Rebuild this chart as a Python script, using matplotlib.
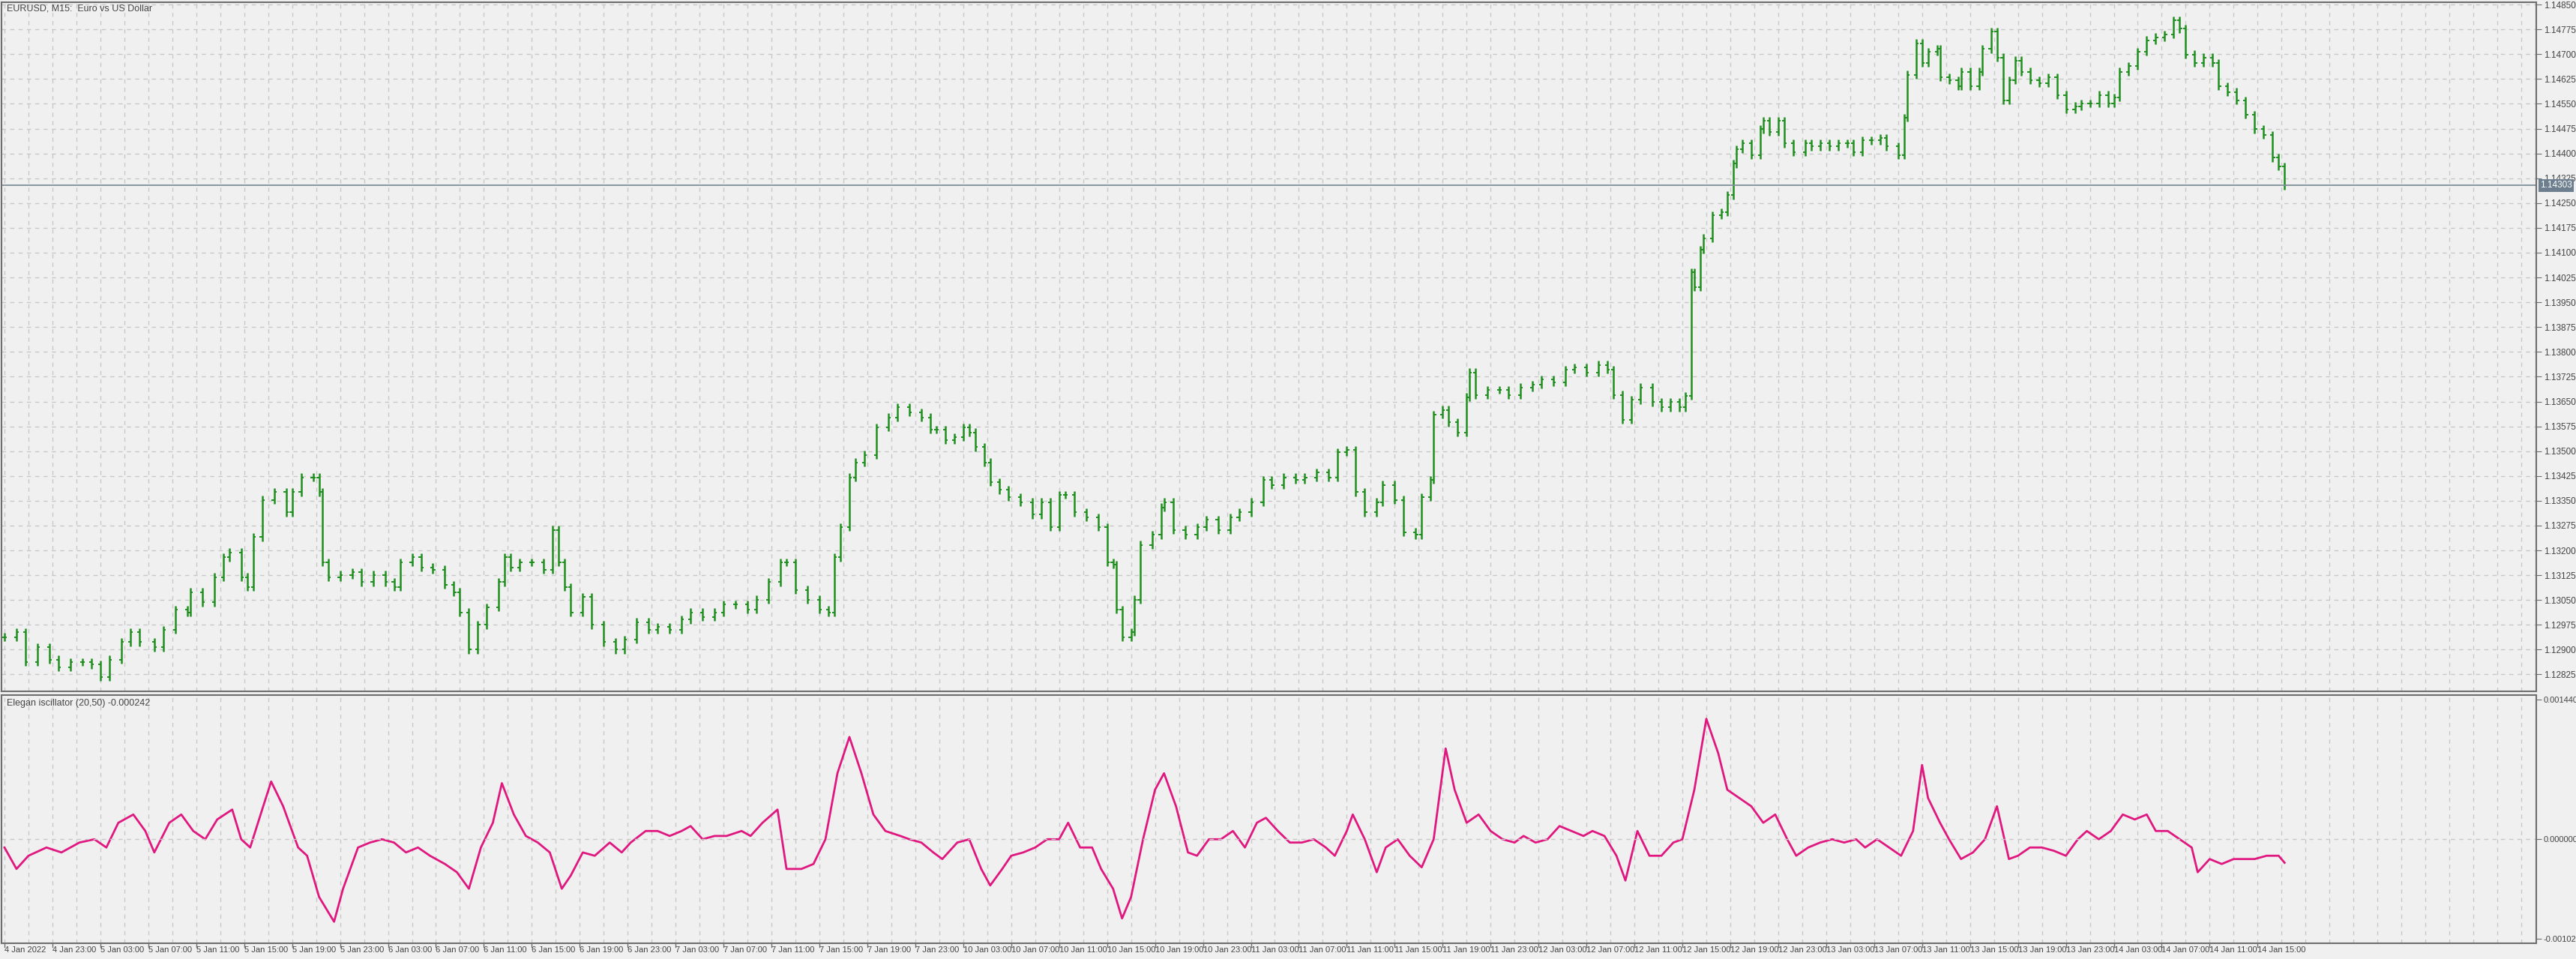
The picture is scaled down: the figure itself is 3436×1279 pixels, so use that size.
import numpy as np
import matplotlib
matplotlib.use("Agg")
import matplotlib.pyplot as plt

plt.rcParams['font.family'] = ['Liberation Sans Narrow', 'Liberation Sans', 'DejaVu Sans']

# EURUSD M15 bars (bar index, close)
bar_idx = [0, 4, 7, 11, 15, 18, 22, 26, 29, 32, 35, 39, 42, 45, 50, 53, 57, 61, 62, 66,
           70, 73, 75, 79, 81, 83, 86, 90, 94, 96, 99, 103, 105, 106, 108, 112, 116, 119, 123, 127,
           130, 132, 136, 139, 143, 147, 150, 152, 155, 158, 161, 165, 167, 169, 172, 176, 180, 183, 185, 187,
           189, 193, 196, 200, 204, 207, 211, 215, 218, 222, 226, 229, 233, 237, 240, 244, 248, 251, 255, 259,
           261, 264, 268, 272, 275, 277, 279, 282, 284, 287,
           291, 295, 298, 302, 306, 309, 311, 314, 317, 320, 322, 324, 327, 329, 332, 335, 339, 343, 346, 349,
           352, 354, 357, 361, 365, 368, 370, 371, 373, 376, 377, 379, 383, 386, 387, 390, 394, 398, 401, 405,
           409, 412, 416, 420, 423, 427, 431, 434, 438, 442, 445, 448, 451, 454, 458, 460, 464, 467, 471, 473,
           476, 477, 480, 482, 485, 488, 489, 491, 495, 499, 502, 506, 510, 513, 517, 521, 524, 528, 532, 535,
           537, 540, 543, 546, 550,
           553, 556, 559, 561, 563, 564, 566, 567, 570, 573, 575, 577, 578, 580, 583, 586, 587, 589, 592, 594,
           597, 601, 603, 606, 609, 612, 615, 617, 620, 623, 626, 628, 632, 634, 635, 638, 640, 642, 645, 646,
           649, 652, 653, 656, 659, 660, 663, 665, 667, 669, 671, 673, 676, 679, 682, 685, 688, 691, 693, 696,
           699, 702, 704, 706, 709, 712, 715, 718, 721, 724, 726, 728, 731, 734, 737, 739, 742, 745, 748, 751,
           754, 757, 759, 761]
close = [1.12938, 1.12953, 1.12862, 1.12907, 1.12870, 1.12847, 1.12862, 1.12862, 1.12855, 1.12817,
         1.12870, 1.12923, 1.12953, 1.12923, 1.12907, 1.12960, 1.13021, 1.13013, 1.13074, 1.13043,
         1.13119, 1.13179, 1.13194, 1.13119, 1.13089, 1.13240, 1.13353, 1.13376, 1.13315, 1.13376,
         1.13421, 1.13421, 1.13376, 1.13164, 1.13119, 1.13126, 1.13134, 1.13104, 1.13126, 1.13104,
         1.13089, 1.13164, 1.13179, 1.13149, 1.13142, 1.13096, 1.13074, 1.13013, 1.12900, 1.12975,
         1.13028, 1.13104, 1.13179, 1.13149, 1.13164, 1.13164, 1.13142, 1.13262, 1.13164, 1.13089,
         1.13013, 1.13059, 1.12975, 1.12923, 1.12900, 1.12930, 1.12983, 1.12960, 1.12968, 1.12960,
         1.12991, 1.13013, 1.12998, 1.13013, 1.13036, 1.13036, 1.13021, 1.13051, 1.13104, 1.13164,
         1.13164, 1.13081, 1.13051, 1.13021, 1.13013, 1.13179, 1.13270, 1.13421, 1.13466, 1.13489,
         1.13572, 1.13602, 1.13633, 1.13617, 1.13602, 1.13565, 1.13565, 1.13534, 1.13542, 1.13572,
         1.13557, 1.13512, 1.13466, 1.13406, 1.13383, 1.13361, 1.13346, 1.13308, 1.13346, 1.13270,
         1.13368, 1.13368, 1.13315, 1.13300, 1.13270, 1.13164, 1.13157, 1.13021, 1.12938, 1.12953,
         1.13051, 1.13217, 1.13247, 1.13330, 1.13346, 1.13262, 1.13247, 1.13270, 1.13293, 1.13262,
         1.13300, 1.13315, 1.13346, 1.13413, 1.13398, 1.13421, 1.13413, 1.13421, 1.13436, 1.13421,
         1.13497, 1.13504, 1.13376, 1.13315, 1.13346, 1.13398, 1.13353, 1.13255, 1.13247, 1.13361,
         1.13413, 1.13610, 1.13625, 1.13587, 1.13557, 1.13663, 1.13738, 1.13670, 1.13685, 1.13685,
         1.13670, 1.13693, 1.13701, 1.13716, 1.13708, 1.13746, 1.13753, 1.13738, 1.13761, 1.13746,
         1.13670, 1.13595, 1.13655, 1.13693, 1.13648,
         1.13632, 1.13649, 1.13632, 1.13667, 1.14040, 1.13996, 1.14109, 1.14144, 1.14213, 1.14222,
         1.14274, 1.14369, 1.14413, 1.14430, 1.14395, 1.14473, 1.14499, 1.14465, 1.14499, 1.14430,
         1.14404, 1.14430, 1.14421, 1.14430, 1.14421, 1.14430, 1.14430, 1.14404, 1.14439, 1.14439,
         1.14447, 1.14421, 1.14395, 1.14508, 1.14638, 1.14733, 1.14673, 1.14707, 1.14716, 1.14630,
         1.14621, 1.14603, 1.14647, 1.14603, 1.14647, 1.14716, 1.14768, 1.14690, 1.14560, 1.14621,
         1.14681, 1.14647, 1.14621, 1.14612, 1.14630, 1.14577, 1.14534, 1.14543, 1.14551, 1.14551,
         1.14577, 1.14551, 1.14569, 1.14647, 1.14664, 1.14707, 1.14742, 1.14751, 1.14760, 1.14803,
         1.14777, 1.14699, 1.14673, 1.14690, 1.14673, 1.14603, 1.14586, 1.14560, 1.14517, 1.14473,
         1.14456, 1.14387, 1.14361, 1.14303]
wick = 0.00012

# oscillator (bar index, value)
osc_idx = [0, 4, 8, 14, 19, 25, 30, 34, 38, 43, 47, 50, 55, 59, 63, 67, 71, 76, 79, 82,
           86, 89, 93, 98, 101, 105, 110, 113, 118, 122, 126, 130, 134, 138, 142, 147, 151, 155, 159, 163,
           166, 170, 174, 178, 182, 186, 189, 193, 197, 202, 206, 209, 214, 218, 222, 226, 229, 233, 237, 241,
           246, 249, 253, 258, 261, 266, 270, 274, 278, 282, 286, 290, 294, 299, 302, 306, 310, 313, 318, 322,
           326, 329, 333, 336, 340, 344, 348, 352, 355, 359, 363, 366, 370, 373, 376, 380, 384, 387, 391, 395,
           398, 402, 406, 410, 414, 418, 421, 425, 429, 433, 437, 441, 444, 448, 450, 454, 458, 461, 465, 469,
           473, 477, 481, 484, 488, 492, 496, 500, 504, 507, 511, 515, 519, 523, 527, 530, 534, 538, 541, 545,
           549, 553, 557, 560, 564, 568, 572, 575, 579, 583, 587, 591, 595, 598, 602, 606, 610, 614, 618, 621,
           625, 629, 633, 637, 640, 642, 646, 649, 653, 657, 661, 665, 669, 672, 676, 680, 684, 688, 692, 695,
           699, 703, 707, 711, 715, 718, 722, 726, 730, 732, 736, 740, 744, 747, 751, 755, 759, 761]
osc = [-0.000085, -0.000306, -0.000170, -0.000085, -0.000136, -0.000034, 0.0, -0.000085, 0.000170, 0.000255,
       0.000085, -0.000136, 0.000170, 0.000255, 0.000085, 0.0, 0.000204, 0.000306, 0.0, -0.000085,
       0.000306, 0.000595, 0.000340, -0.000085, -0.000170, -0.000595, -0.000850, -0.000510, -0.000085, -0.000034,
       0.0, -0.000034, -0.000136, -0.000085, -0.000170, -0.000255, -0.000340, -0.000510, -0.000085, 0.000170,
       0.000578, 0.000255, 0.000034, -0.000034, -0.000136, -0.000510, -0.000374, -0.000136, -0.000170, -0.000034,
       -0.000136, -0.000034, 0.000085, 0.000085, 0.000034, 0.000085, 0.000136, 0.0, 0.000034, 0.000034,
       0.000085, 0.000034, 0.000170, 0.000306, -0.000306, -0.000306, -0.000255, 0.0, 0.000680, 0.001054,
       0.000680, 0.000255, 0.000085, 0.000034, 0.0, -0.000034, -0.000136, -0.000204, -0.000034, 0.0,
       -0.000306, -0.000476, -0.000306, -0.000170, -0.000136, -0.000085, 0.0, 0.0, 0.000170, -0.000085,
       -0.000085, -0.000306, -0.000510, -0.000816, -0.000595, 0.0, 0.000510, 0.000680, 0.000340, -0.000136,
       -0.000170, 0.0, 0.0, 0.000085, -0.000085, 0.000170, 0.000221, 0.000085, -0.000034, -0.000034,
       0.0, -0.000085, -0.000170, 0.000085, 0.000255, 0.0, -0.000340, -0.000085, 0.0, -0.000170,
       -0.000289, 0.0, 0.000935, 0.000510, 0.000170, 0.000255, 0.000085, 0.0, -0.000034, 0.000034,
       -0.000034, 0.0, 0.000136, 0.000085, 0.000034, 0.000085, 0.000034, -0.000170, -0.000425, 0.000085,
       -0.000170, -0.000170, -0.000034, 0.0, 0.000510, 0.001241, 0.000884, 0.000510, 0.000425, 0.000340,
       0.000170, 0.000255, 0.0, -0.000170, -0.000085, -0.000034, 0.0, -0.000034, 0.0, -0.000085,
       0.0, -0.000085, -0.000170, 0.000085, 0.000765, 0.000425, 0.000170, 0.0, -0.000204, -0.000136,
       0.0, 0.000340, -0.000204, -0.000170, -0.000085, -0.000085, -0.000119, -0.000170, 0.0, 0.000085,
       0.0, 0.000085, 0.000255, 0.000204, 0.000255, 0.000085, 0.000085, 0.0, -0.000085, -0.000340,
       -0.000204, -0.000255, -0.000204, -0.000204, -0.000204, -0.000170, -0.000170, -0.000242]

price_ticks = [1.12825 + 0.00075 * k for k in range(28)]
osc_ticks = [0.001440, 0.0, -0.001026]
last_price = 1.14303
time_labels = ["4 Jan 2022", "4 Jan 23:00"]
for d in ["5", "6", "7", "10", "11", "12", "13"]:
    time_labels += [f"{d} Jan {h}" for h in ["03:00", "07:00", "11:00", "15:00", "19:00", "23:00"]]
time_labels += ["14 Jan 03:00", "14 Jan 07:00", "14 Jan 11:00", "14 Jan 15:00"]

BG = "#f0f0f0"
FRAME = "#6e6e6e"
GRID = "#c8c8c8"
BAR = "#1f8f1f"
TXT = "#444444"

fig = plt.figure(figsize=(34.36, 12.79), dpi=100, facecolor=BG)
ax = fig.add_axes([2 / 3436, 1 - 922 / 1279, 3381 / 3436, 919 / 1279], facecolor=BG)
ax2 = fig.add_axes([2 / 3436, 1 - 1258 / 1279, 3381 / 3436, 331 / 1279], facecolor=BG)

xr = 845
for a in (ax, ax2):
    a.set_xlim(-1, xr)
    for s in a.spines.values():
        s.set_color(FRAME)
        s.set_linewidth(1.5)
    a.set_xticks(np.arange(0, xr, 8))
    a.grid(True, color=GRID, linestyle=(0, (4, 4)), linewidth=1)
    a.tick_params(axis="x", bottom=False, labelbottom=False)
    a.yaxis.tick_right()
    a.tick_params(axis="y", direction="out", length=5, color=FRAME,
                  labelsize=8.5, labelcolor=TXT, pad=2)

# OHLC bars
bi = np.array(bar_idx)
c = np.array(close)
o = np.concatenate([[c[0]], c[:-1]])
hi = np.maximum(o, c) + wick
lo = np.minimum(o, c) - wick
ax.vlines(bi, lo, hi, color=BAR, linewidth=1.8)
ax.hlines(o, bi - 0.8, bi, color=BAR, linewidth=1.4)
ax.hlines(c, bi, bi + 0.8, color=BAR, linewidth=1.4)

ax.set_ylim(1.12774, 1.14857)
ax.set_yticks(price_ticks)
ax.set_yticklabels([f"{t:.5f}" for t in price_ticks])
ax.axhline(last_price, color="#7f8f99", linewidth=1.3)
ax.text(1.0015, last_price, f"{last_price:.5f}", transform=ax.get_yaxis_transform(),
        va="center", ha="left", fontsize=8.5, color="white",
        bbox=dict(boxstyle="square,pad=0.2", fc="#6d7f8f", ec="none"))
ax.text(0.002, 0.997, "EURUSD, M15:  Euro vs US Dollar", transform=ax.transAxes,
        va="top", ha="left", fontsize=9, color=TXT)

ax2.plot(osc_idx, osc, color="#e0177f", linewidth=2)
ax2.set_ylim(-0.001072, 0.001486)
ax2.set_yticks(osc_ticks)
ax2.set_yticklabels([f"{t:.6f}" for t in osc_ticks], fontsize=8)
ax2.yaxis.grid(False)
ax2.axhline(0, color=GRID, linestyle=(0, (4, 4)), linewidth=1)
ax2.text(0.002, 0.985, f"Elegan iscillator (20,50) {osc[-1]:.6f}", transform=ax2.transAxes,
         va="top", ha="left", fontsize=9, color=TXT)

# time axis labels under the oscillator panel
for k, lab in enumerate(time_labels):
    x = k * 16
    ax2.plot([x, x], [0, -0.015], transform=ax2.get_xaxis_transform(), color=FRAME,
             linewidth=1, clip_on=False)
    ax2.text(x, -0.012, lab, transform=ax2.get_xaxis_transform(), ha="left", va="top",
             fontsize=8, color=TXT)

fig.savefig("out.png", dpi=100, facecolor=BG)
